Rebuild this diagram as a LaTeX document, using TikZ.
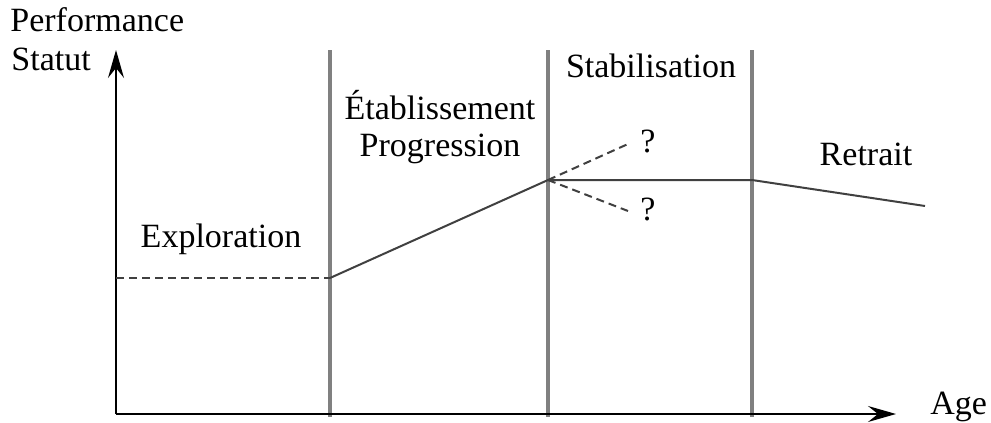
\documentclass[tikz,border=0pt]{standalone}
\usepackage{fontspec}
\setmainfont{Liberation Serif}
\usetikzlibrary{arrows.meta}

\begin{document}
\begin{tikzpicture}[x=0.5pt,y=-0.5pt,
  lbl/.style={anchor=base,inner sep=0pt,font=\fontsize{17}{20}\selectfont},
  phase/.style={draw=black!50,line width=1.7pt},
  axis/.style={line width=1.1pt,-{Stealth[length=14pt,width=8pt,inset=5pt]}},
  trend/.style={draw=black!75,line width=1pt},
  guess/.style={trend,dash pattern=on 4pt off 2.5pt}]
\useasboundingbox (0,0) rectangle (991,423);
% phase borders:
\coordinate (b1) at (330,50);
\coordinate (b2) at (548,50);
\coordinate (b3) at (752,50);
\draw[phase] (b1) -- (330,417);
\draw[phase] (b2) -- (548,417);
\draw[phase] (b3) -- (752,417);
% axes:
\coordinate (O) at (116,414);
\coordinate (ytip) at (116,50);
\coordinate (xtip) at (896,414);
\draw[axis] (O) -- (ytip);
\draw[axis] (O) -- (xtip);
% career curve:
\coordinate (e0) at (116,278);
\coordinate (e1) at (330,278);
\coordinate (s0) at (548,180);
\coordinate (s1) at (752,180);
\coordinate (r1) at (925,206);
\coordinate (up) at (628,144);
\coordinate (dn) at (628,211);
\draw[guess] (e0) -- (e1);
\draw[trend] (e1) -- (s0) -- (s1) -- (r1);
\draw[guess] (s0) -- (up);
\draw[guess] (s0) -- (dn);
% labels:
\node[lbl,anchor=base west] (perf) at (10,32) {Performance};
\node[lbl,anchor=base west] (stat) at (11,70) {Statut};
\node[lbl,anchor=base west] (age) at (930,414) {Age};
\node[lbl] (expl) at (221,247) {Exploration};
\node[lbl] (etab) at (440,119) {Établissement};
\node[lbl] (prog) at (440,156) {Progression};
\node[lbl] (stab) at (651,77) {Stabilisation};
\node[lbl] (retr) at (866,165) {Retrait};
\node[lbl] (q1) at (648,152) {?};
\node[lbl] (q2) at (648,220) {?};
\end{tikzpicture}
\end{document}
